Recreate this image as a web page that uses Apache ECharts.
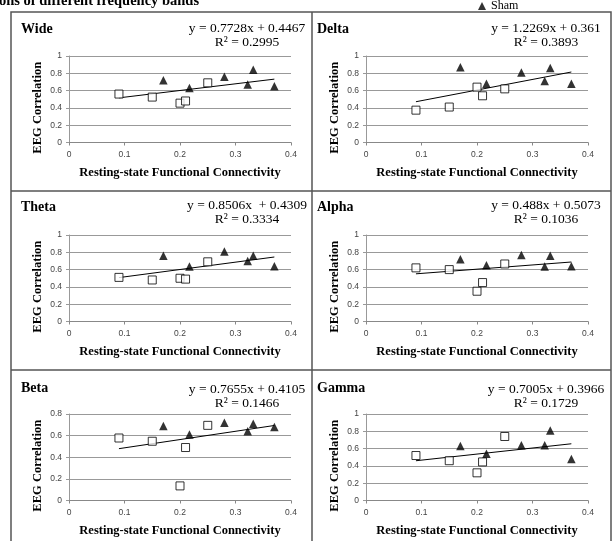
<!DOCTYPE html>
<html><head><meta charset="utf-8">
<script src="https://cdn.jsdelivr.net/npm/echarts@6/dist/echarts.min.js"></script>
<style>html,body{margin:0;padding:0;background:#fff;}#c{width:615px;height:541px;}</style>
</head><body><div id="c"></div>
<script>
// ---- data ----
const bands = ['Wide', 'Delta', 'Theta', 'Alpha', 'Beta', 'Gamma'];
const controlX = [0.09, 0.15, 0.20, 0.21, 0.25];
const shamX = [0.17, 0.217, 0.28, 0.322, 0.332, 0.37];
const wideControl = [0.56, 0.525, 0.455, 0.48, 0.69];
const wideSham = [0.72, 0.63, 0.76, 0.67, 0.84, 0.65];
const deltaControl = [0.374, 0.41, 0.64, 0.54, 0.62];
const deltaSham = [0.87, 0.68, 0.81, 0.71, 0.86, 0.68];
const thetaControl = [0.51, 0.48, 0.50, 0.49, 0.69];
const thetaSham = [0.76, 0.635, 0.81, 0.70, 0.76, 0.64];
const alphaControl = [0.62, 0.60, 0.35, 0.45, 0.665];
const alphaSham = [0.72, 0.65, 0.77, 0.635, 0.76, 0.64];
const betaControl = [0.578, 0.548, 0.135, 0.49, 0.695];
const betaSham = [0.69, 0.61, 0.72, 0.64, 0.71, 0.68];
const gammaControl = [0.52, 0.46, 0.32, 0.446, 0.74];
const gammaSham = [0.63, 0.54, 0.64, 0.64, 0.81, 0.48];
const slopes = [0.7728, 1.2269, 0.8506, 0.488, 0.7655, 0.7005];
const intercepts = [0.4467, 0.361, 0.4309, 0.5073, 0.4105, 0.3966];
const eqLabels = ['y = 0.7728x + 0.4467', 'y = 1.2269x + 0.361', 'y = 0.8506x  + 0.4309',
                  'y = 0.488x + 0.5073', 'y = 0.7655x + 0.4105', 'y = 0.7005x + 0.3966'];
const r2Labels = ['R² = 0.2995', 'R² = 0.3893', 'R² = 0.3334', 'R² = 0.1036', 'R² = 0.1466', 'R² = 0.1729'];
const yMaxes = [1, 1, 1, 1, 0.8, 1];
const xAxisTitle = 'Resting-state Functional Connectivity';
const yAxisTitle = 'EEG Correlation';
const captionText = 'ons of different frequency bands';
const legendName = 'Sham';

const controlSets = [wideControl, deltaControl, thetaControl, alphaControl, betaControl, gammaControl];
const shamSets = [wideSham, deltaSham, thetaSham, alphaSham, betaSham, gammaSham];

// ---- layout ----
const colLeft = [69, 366];
const rowTop = [56, 235, 414];
const plotW = 222, plotH = 86.5;
const titleX = [21, 317];
const titleY = [30, 208, 389];
const eqX = [247, 546];
const eqY = [28, 205, 389];
const serif = 'Liberation Serif';

const grids = [], xAxes = [], yAxes = [], series = [], graphics = [];
bands.forEach((b, i) => {
  const col = i % 2, row = Math.floor(i / 2);
  grids.push({left: colLeft[col], top: rowTop[row], width: plotW, height: plotH, containLabel: false});
  xAxes.push({
    type: 'value', gridIndex: i, min: 0, max: 0.4, interval: 0.1,
    name: xAxisTitle, nameLocation: 'middle', nameGap: 24,
    nameTextStyle: {fontFamily: serif, fontWeight: 'bold', fontSize: 12.5, color: '#000'},
    axisLine: {show: true, lineStyle: {color: '#888', width: 1}},
    axisTick: {show: true, length: 3, lineStyle: {color: '#888'}},
    axisLabel: {fontFamily: 'Liberation Sans', fontSize: 8.5, color: '#444', margin: 8},
    splitLine: {show: false}
  });
  yAxes.push({
    type: 'value', gridIndex: i, min: 0, max: yMaxes[i], interval: 0.2,
    name: yAxisTitle, nameLocation: 'middle', nameGap: 25, nameRotate: 90,
    nameTextStyle: {fontFamily: serif, fontWeight: 'bold', fontSize: 12.5, color: '#000', padding: [0, 17, 0, 0]},
    axisLine: {show: true, lineStyle: {color: '#999', width: 1}},
    axisTick: {show: true, length: 3, lineStyle: {color: '#999'}},
    axisLabel: {fontFamily: 'Liberation Sans', fontSize: 8.5, color: '#444', margin: 7},
    splitLine: {show: true, lineStyle: {color: '#999', width: 1}}
  });
  const ctrl = controlSets[i], sham = shamSets[i];
  series.push({
    type: 'scatter', name: 'Control', xAxisIndex: i, yAxisIndex: i,
    symbol: 'rect', symbolSize: 8,
    itemStyle: {color: '#fff', borderColor: '#000', borderWidth: 1},
    data: controlX.map((x, k) => [x, ctrl[k]]), z: 3
  });
  series.push({
    type: 'scatter', name: legendName, xAxisIndex: i, yAxisIndex: i,
    symbol: 'triangle', symbolSize: 8.5,
    itemStyle: {color: '#000'},
    data: shamX.map((x, k) => [x, sham[k]]), z: 3
  });
  const allX = controlX.concat(shamX);
  const x0 = Math.min(...allX), x1 = Math.max(...allX);
  series.push({
    type: 'line', name: 'trend' + i, xAxisIndex: i, yAxisIndex: i,
    showSymbol: false, silent: true, lineStyle: {color: '#000', width: 1},
    data: [[x0, slopes[i] * x0 + intercepts[i]], [x1, slopes[i] * x1 + intercepts[i]]], z: 2
  });
  graphics.push({type: 'text', left: titleX[col], top: titleY[row] - 8,
    style: {text: b, font: 'bold 14px "Liberation Serif"', fill: '#000'}});
  graphics.push({type: 'text', x: eqX[col], y: eqY[row],
    style: {text: eqLabels[i], font: '13.5px "Liberation Serif"', fill: '#000', align: 'center', verticalAlign: 'middle'}});
  graphics.push({type: 'text', x: eqX[col], y: eqY[row] + 14,
    style: {text: r2Labels[i], font: '13.5px "Liberation Serif"', fill: '#000', align: 'center', verticalAlign: 'middle'}});
});

// frame
const frameColor = '#555';
graphics.push({type: 'rect', shape: {x: 11, y: 12, width: 600, height: 560},
  style: {fill: 'none', stroke: frameColor, lineWidth: 1.5}, silent: true});
graphics.push({type: 'line', shape: {x1: 312, y1: 12, x2: 312, y2: 560},
  style: {stroke: frameColor, lineWidth: 1.5}, silent: true});
graphics.push({type: 'line', shape: {x1: 11, y1: 191, x2: 611, y2: 191},
  style: {stroke: frameColor, lineWidth: 1.5}, silent: true});
graphics.push({type: 'line', shape: {x1: 11, y1: 370, x2: 611, y2: 370},
  style: {stroke: frameColor, lineWidth: 1.5}, silent: true});
graphics.push({type: 'text', x: -1, y: 1,
  style: {text: captionText, font: 'bold 14.5px "Liberation Serif"', fill: '#000', verticalAlign: 'middle'}});

const chart = echarts.init(document.getElementById('c'), null, {renderer: 'canvas'});
chart.setOption({
  animation: false,
  backgroundColor: '#fff',
  grid: grids, xAxis: xAxes, yAxis: yAxes, series: series,
  legend: {data: [{name: legendName, icon: 'triangle'}], left: 478, top: 0, padding: 0,
    itemWidth: 8, itemHeight: 8, itemGap: 4, selectedMode: false,
    textStyle: {fontFamily: serif, fontSize: 12, color: '#000'}},
  graphic: graphics
});
</script></body></html>
